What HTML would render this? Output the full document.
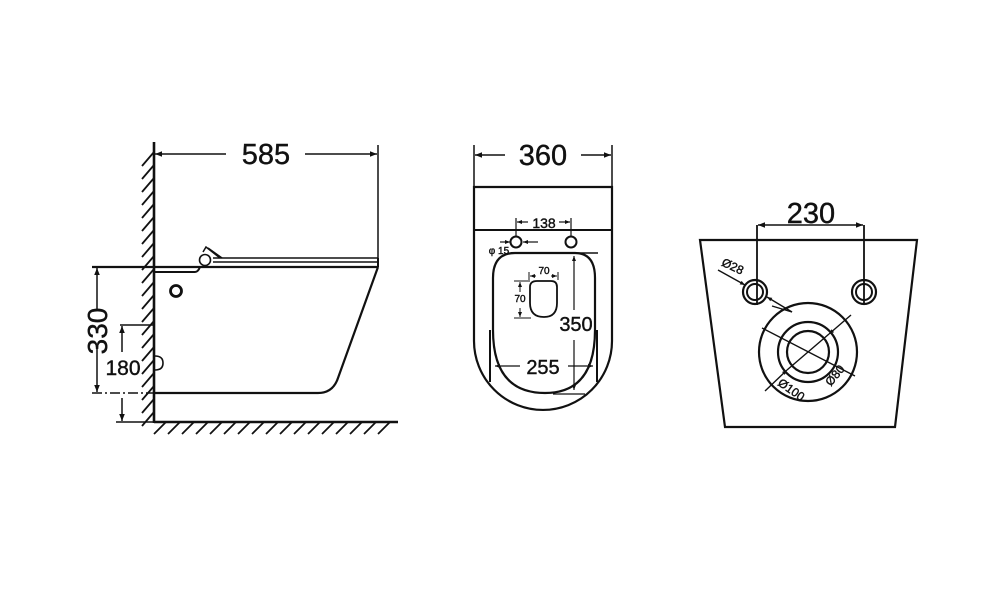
<!DOCTYPE html>
<html><head><meta charset="utf-8"><style>
html,body{margin:0;padding:0;background:#fff;}
svg{display:block;}
text{font-family:"Liberation Sans",Arial,sans-serif;fill:#111;stroke:#111;stroke-width:0.4;}
</style></head><body>
<svg width="1000" height="589" viewBox="0 0 1000 589" xmlns="http://www.w3.org/2000/svg">
<defs>
<marker id="a" viewBox="0 0 10 10" refX="10" refY="5" markerWidth="10" markerHeight="7" orient="auto-start-reverse" markerUnits="userSpaceOnUse"><path d="M0,1 L10,5 L0,9 z" fill="#111"/></marker>
<marker id="s" viewBox="0 0 10 10" refX="10" refY="5" markerWidth="7" markerHeight="5" orient="auto-start-reverse" markerUnits="userSpaceOnUse"><path d="M0,1 L10,5 L0,9 z" fill="#111"/></marker>
</defs>
<g stroke="#111" fill="none" stroke-width="2">
<!-- SIDE VIEW -->
<line x1="154" y1="142" x2="154" y2="423" stroke-width="2.6"/>
<line x1="154" y1="422" x2="398" y2="422" stroke-width="2.6"/>
<g stroke-width="1.8">
<line x1="154" y1="152" x2="142" y2="166"/><line x1="154" y1="165" x2="142" y2="179"/><line x1="154" y1="178" x2="142" y2="192"/><line x1="154" y1="191" x2="142" y2="205"/><line x1="154" y1="204" x2="142" y2="218"/><line x1="154" y1="217" x2="142" y2="231"/><line x1="154" y1="230" x2="142" y2="244"/><line x1="154" y1="243" x2="142" y2="257"/><line x1="154" y1="256" x2="142" y2="270"/><line x1="154" y1="269" x2="142" y2="283"/><line x1="154" y1="282" x2="142" y2="296"/><line x1="154" y1="295" x2="142" y2="309"/><line x1="154" y1="308" x2="142" y2="322"/><line x1="154" y1="321" x2="142" y2="335"/><line x1="154" y1="334" x2="142" y2="348"/><line x1="154" y1="347" x2="142" y2="361"/><line x1="154" y1="360" x2="142" y2="374"/><line x1="154" y1="373" x2="142" y2="387"/><line x1="154" y1="386" x2="142" y2="400"/><line x1="154" y1="399" x2="142" y2="413"/><line x1="154" y1="412" x2="142" y2="426"/>
<line x1="166" y1="422" x2="154" y2="434"/><line x1="180" y1="422" x2="168" y2="434"/><line x1="194" y1="422" x2="182" y2="434"/><line x1="208" y1="422" x2="196" y2="434"/><line x1="222" y1="422" x2="210" y2="434"/><line x1="236" y1="422" x2="224" y2="434"/><line x1="250" y1="422" x2="238" y2="434"/><line x1="264" y1="422" x2="252" y2="434"/><line x1="278" y1="422" x2="266" y2="434"/><line x1="292" y1="422" x2="280" y2="434"/><line x1="306" y1="422" x2="294" y2="434"/><line x1="320" y1="422" x2="308" y2="434"/><line x1="334" y1="422" x2="322" y2="434"/><line x1="348" y1="422" x2="336" y2="434"/><line x1="362" y1="422" x2="350" y2="434"/><line x1="376" y1="422" x2="364" y2="434"/><line x1="390" y1="422" x2="378" y2="434"/>
</g>
<line x1="378" y1="145" x2="378" y2="267" stroke-width="1.5"/>
<line x1="226" y1="154" x2="155" y2="154" marker-end="url(#a)" stroke-width="1.5"/>
<line x1="305" y1="154" x2="377" y2="154" marker-end="url(#a)" stroke-width="1.5"/>
<line x1="92" y1="267" x2="378" y2="267" stroke-width="2.2"/>
<path d="M154,272 H195 Q198,272 200,267"/>
<path d="M378,267 L338,378 Q333,393 318,393 H154" stroke-width="2.2"/>
<line x1="213" y1="258" x2="378" y2="258" stroke-width="1.5"/>
<line x1="213" y1="262" x2="378" y2="262" stroke-width="1.5"/>
<line x1="378" y1="258" x2="378" y2="267"/>
<path d="M203,252 L206,247 L220,258 M208,248 L222,258" stroke-width="1.5"/>
<circle cx="205" cy="260" r="5.5" stroke-width="1.6"/>
<circle cx="176" cy="291" r="5.5" stroke-width="2.8"/>
<path d="M155,356 Q163,356 163,363 Q163,370 155,370" stroke-width="1.6"/>
<line x1="97" y1="345" x2="97" y2="392" marker-end="url(#a)" stroke-width="1.5"/>
<line x1="97" y1="310" x2="97" y2="268" marker-end="url(#a)" stroke-width="1.5"/>
<line x1="92" y1="393" x2="154" y2="393" stroke-width="1.5" stroke-dasharray="10,3,2,3"/>
<line x1="120" y1="325" x2="154" y2="325" stroke-width="1.5"/>
<line x1="122" y1="352" x2="122" y2="326" marker-end="url(#a)" stroke-width="1.5"/>
<line x1="122" y1="398" x2="122" y2="421" marker-end="url(#a)" stroke-width="1.5"/>
<line x1="116" y1="422" x2="154" y2="422" stroke-width="1.5"/>

<!-- FRONT VIEW -->
<line x1="474" y1="145" x2="474" y2="187" stroke-width="1.5"/>
<line x1="612" y1="145" x2="612" y2="187" stroke-width="1.5"/>
<line x1="505" y1="155" x2="475" y2="155" marker-end="url(#a)" stroke-width="1.5"/>
<line x1="581" y1="155" x2="611" y2="155" marker-end="url(#a)" stroke-width="1.5"/>
<path d="M474,187 H612 V341 A69,69 0 0 1 474,341 Z" stroke-width="2.2"/>
<line x1="474" y1="230" x2="612" y2="230"/>
<circle cx="516" cy="242" r="5.5"/><circle cx="571" cy="242" r="5.5"/>
<line x1="516" y1="218" x2="516" y2="236" stroke-width="1.2"/>
<line x1="571" y1="218" x2="571" y2="236" stroke-width="1.2"/>
<line x1="528" y1="222" x2="517" y2="222" marker-end="url(#s)" stroke-width="1.2"/>
<line x1="559" y1="222" x2="570" y2="222" marker-end="url(#s)" stroke-width="1.2"/>
<line x1="500" y1="242" x2="510" y2="242" marker-end="url(#s)" stroke-width="1.2"/>
<line x1="538" y1="242" x2="523" y2="242" marker-end="url(#s)" stroke-width="1.2"/>
<path d="M515,253 H575 Q595,253 595,278 V330 Q595,393 545,393 Q493,393 493,330 V278 Q493,253 515,253 Z" stroke-width="2.2"/>
<line x1="575" y1="253" x2="598" y2="253" stroke-width="1.4"/>
<line x1="490" y1="330" x2="490" y2="382" stroke-width="2"/>
<line x1="597" y1="330" x2="597" y2="382" stroke-width="2"/>
<line x1="553" y1="394" x2="585" y2="394" stroke-width="1.3"/>
<path d="M537,281 H551 Q557,281 557,287 V303 Q557,317 544,317 Q530,317 530,303 V287 Q530,281 537,281 Z" stroke-width="1.8"/>
<line x1="529" y1="272" x2="529" y2="280" stroke-width="1"/>
<line x1="558" y1="272" x2="558" y2="280" stroke-width="1"/>
<line x1="536" y1="276" x2="530" y2="276" marker-end="url(#s)" stroke-width="1"/>
<line x1="551" y1="276" x2="557" y2="276" marker-end="url(#s)" stroke-width="1"/>
<line x1="514" y1="281" x2="530" y2="281" stroke-width="1"/>
<line x1="514" y1="318" x2="531" y2="318" stroke-width="1"/>
<line x1="520" y1="292" x2="520" y2="282" marker-end="url(#s)" stroke-width="1"/>
<line x1="520" y1="308" x2="520" y2="317" marker-end="url(#s)" stroke-width="1"/>
<line x1="574" y1="310" x2="574" y2="256" marker-end="url(#s)" stroke-width="1.2"/>
<line x1="574" y1="340" x2="574" y2="390" marker-end="url(#s)" stroke-width="1.2"/>
<line x1="520" y1="366" x2="495" y2="366" marker-end="url(#s)" stroke-width="1.2"/>
<line x1="568" y1="366" x2="593" y2="366" marker-end="url(#s)" stroke-width="1.2"/>

<!-- BACK VIEW -->
<path d="M700,240 H917 L895,427 H725 Z" stroke-width="2.2"/>
<line x1="757" y1="225" x2="757" y2="305" stroke-width="1.8"/>
<line x1="864" y1="225" x2="864" y2="305" stroke-width="1.8"/>
<line x1="758" y1="225" x2="863" y2="225" marker-start="url(#a)" marker-end="url(#a)" stroke-width="1.5"/>
<circle cx="755" cy="292" r="12" stroke-width="2.2"/><circle cx="755" cy="292" r="8"/>
<circle cx="864" cy="292" r="12" stroke-width="2.2"/><circle cx="864" cy="292" r="8"/>
<circle cx="808" cy="352" r="49" stroke-width="2.2"/>
<circle cx="808" cy="352" r="30" stroke-width="2.2"/>
<circle cx="808" cy="352" r="21" stroke-width="2.2"/>
<line x1="718" y1="270" x2="745" y2="285" marker-end="url(#s)" stroke-width="1.4"/>
<line x1="792" y1="312" x2="767" y2="297" marker-end="url(#s)" stroke-width="1.4"/>
<line x1="772" y1="306" x2="792" y2="312" stroke-width="1.4"/>
<line x1="762" y1="328" x2="855" y2="376" stroke-width="1.4"/>
<line x1="851" y1="315" x2="829" y2="334" marker-end="url(#s)" stroke-width="1.4"/>
<line x1="829" y1="334" x2="787" y2="370" stroke-width="1.4"/>
<line x1="765" y1="391" x2="787" y2="370" marker-end="url(#s)" stroke-width="1.4"/>
</g>
<g text-anchor="middle">
<text x="266" y="164" font-size="29">585</text>
<text x="543" y="165" font-size="29">360</text>
<text x="811" y="223" font-size="29">230</text>
<text transform="translate(107,331) rotate(-90)" font-size="28">330</text>
<text x="123" y="375" font-size="21">180</text>
<text x="544" y="228" font-size="14">138</text>
<text x="499" y="254" font-size="10">φ 15</text>
<text x="544" y="274" font-size="10">70</text>
<text x="520" y="302" font-size="10">70</text>
<text x="576" y="331" font-size="20">350</text>
<text x="543" y="374" font-size="20">255</text>
<text transform="translate(731,270) rotate(25)" font-size="12">Ø28</text>
<text transform="translate(838,378) rotate(-50)" font-size="12">Ø80</text>
<text transform="translate(789,393) rotate(35)" font-size="12">Ø100</text>
</g>
</svg>
</body></html>
